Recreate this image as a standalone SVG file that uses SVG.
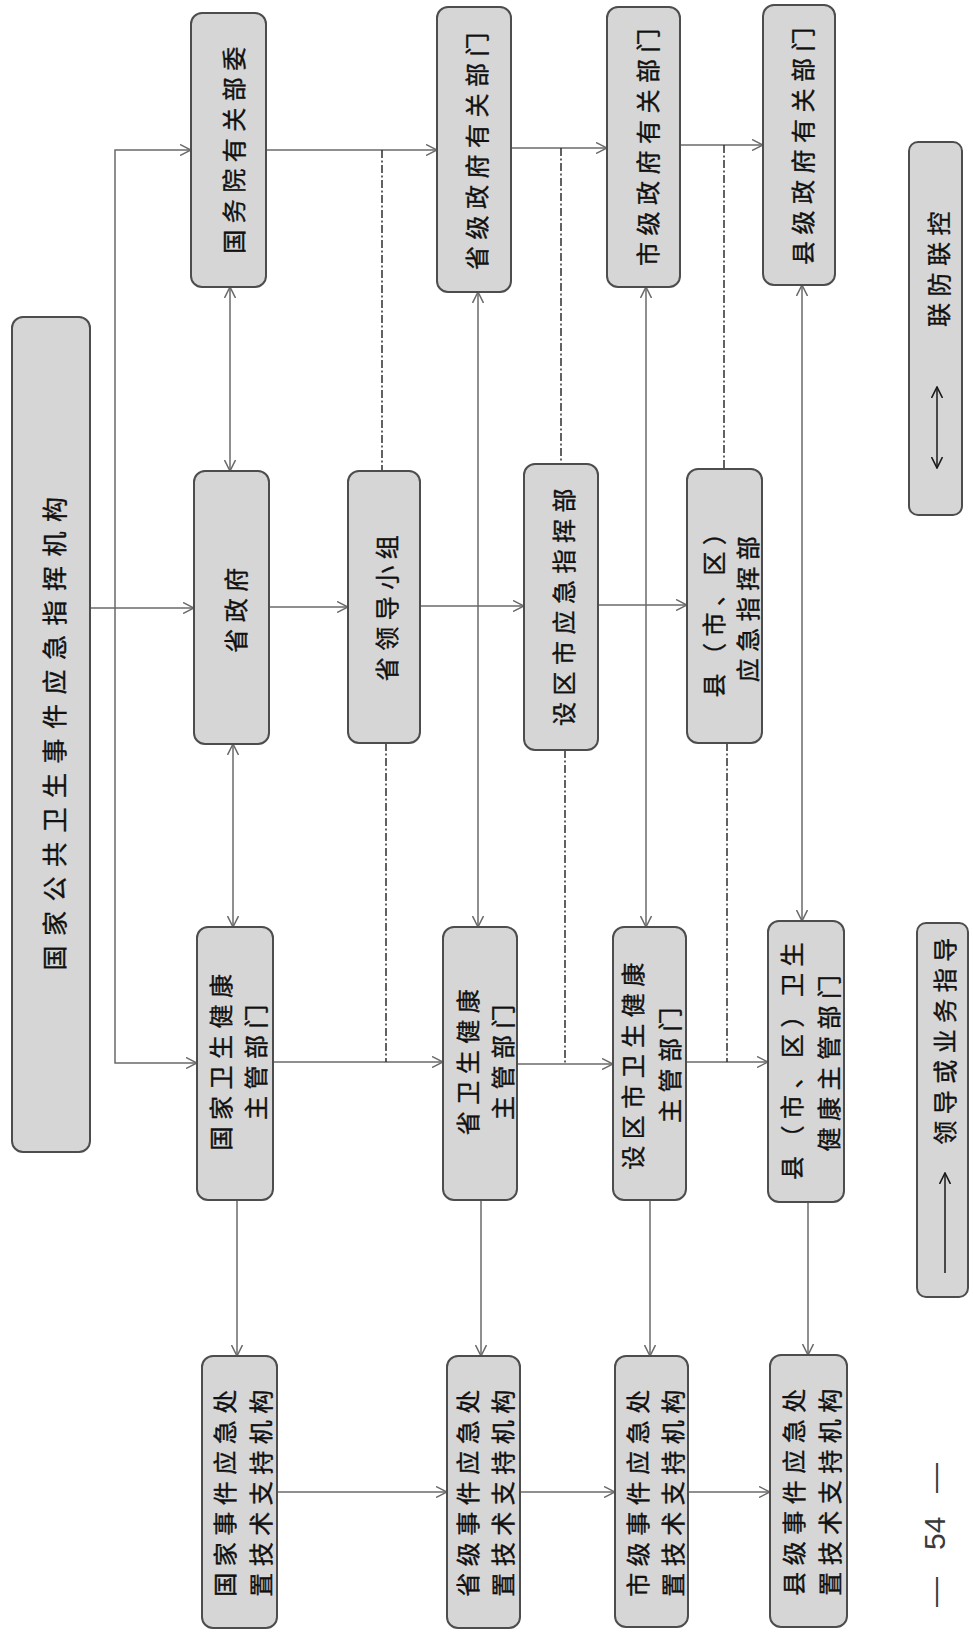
<svg xmlns="http://www.w3.org/2000/svg" width="973" height="1636" viewBox="0 0 973 1636">
  <style>
    .box { fill: #d6d6d6; stroke: #4d4d4d; stroke-width: 2; }
    .t { font-family: "Noto Sans CJK SC", "Noto Sans", sans-serif; font-size: 24px; letter-spacing: 6.5px; fill: #111111; stroke: #111111; stroke-width: 0.4; text-anchor: middle; dominant-baseline: central; }
    .title { font-size: 25px; letter-spacing: 9.5px; }
    .ln { fill: none; stroke: #6a6a6a; stroke-width: 1.5; }
    .arr { marker-end: url(#vee); }
    .both { marker-start: url(#vee); marker-end: url(#vee); }
    .dd { fill: none; stroke: #2e2e2e; stroke-width: 1.5; stroke-dasharray: 8 2.5 2 2.5; }
    .key { fill: none; stroke: #1a1a1a; stroke-width: 1.5; }
    .page { font-family: "Liberation Sans", Arial, sans-serif; font-size: 30px; fill: #3a3a3a; dominant-baseline: central; }
  </style>
  <defs>
    <marker id="vee" viewBox="0 0 12 12" refX="11" refY="6" markerWidth="12" markerHeight="12" markerUnits="userSpaceOnUse" orient="auto-start-reverse">
      <path d="M0,0.5 L11,6 L0,11.5" fill="none" stroke="#6a6a6a" stroke-width="1.5"/>
    </marker>
    <marker id="veeK" viewBox="0 0 12 12" refX="11" refY="6" markerWidth="12" markerHeight="12" markerUnits="userSpaceOnUse" orient="auto-start-reverse">
      <path d="M0,0.5 L11,6 L0,11.5" fill="none" stroke="#1a1a1a" stroke-width="1.6"/>
    </marker>
  </defs>

  <rect width="973" height="1636" fill="#ffffff"/>

  <!-- connectors: solid lines lead, dash-dot lines mark the joint control links -->
  <g id="connectors">
    <path class="ln arr" d="M90,608 H194"/>
    <path class="ln arr" d="M115,608 V150 H191"/>
    <path class="ln arr" d="M115,608 V1063 H197"/>

    <path class="ln arr" d="M266,150 H437"/>
    <path class="ln arr" d="M511,148 H607"/>
    <path class="ln arr" d="M680,145 H763"/>

    <path class="ln arr" d="M269,607 H348"/>
    <path class="ln arr" d="M420,606 H524"/>
    <path class="ln arr" d="M598,605 H687"/>

    <path class="ln arr" d="M273,1062 H443"/>
    <path class="ln arr" d="M517,1064 H613"/>
    <path class="ln arr" d="M686,1062 H768"/>

    <path class="ln arr" d="M277,1492 H447"/>
    <path class="ln arr" d="M520,1492 H615"/>
    <path class="ln arr" d="M688,1492 H770"/>

    <path class="ln arr" d="M237,1200 V1356"/>
    <path class="ln arr" d="M481,1200 V1356"/>
    <path class="ln arr" d="M650,1200 V1356"/>
    <path class="ln arr" d="M808,1202 V1355"/>

    <path class="ln both" d="M230,287 V471"/>
    <path class="ln both" d="M233,744 V927"/>
    <path class="ln both" d="M478,292 V927"/>
    <path class="ln both" d="M646,287 V927"/>
    <path class="ln both" d="M802,285 V921"/>

    <path class="dd" d="M382,150 V471"/>
    <path class="dd" d="M386,743 V1062"/>
    <path class="dd" d="M561,148 V464"/>
    <path class="dd" d="M565,750 V1064"/>
    <path class="dd" d="M724,145 V469"/>
    <path class="dd" d="M727,743 V1062"/>
  </g>

  <g id="n-title">
    <rect class="box" x="12" y="317" width="78" height="835" rx="11"/>
    <text class="t title" transform="translate(53,729) rotate(-90)">国家公共卫生事件应急指挥机构</text>
  </g>

  <g id="n-guowuyuan">
    <rect class="box" x="191" y="13" width="75" height="274" rx="11"/>
    <text class="t" transform="translate(232,147) rotate(-90)">国务院有关部委</text>
  </g>
  <g id="n-shengji-bumen">
    <rect class="box" x="437" y="7" width="74" height="285" rx="11"/>
    <text class="t" transform="translate(475,148) rotate(-90)">省级政府有关部门</text>
  </g>
  <g id="n-shiji-bumen">
    <rect class="box" x="607" y="7" width="73" height="280" rx="11"/>
    <text class="t" transform="translate(646,144) rotate(-90)">市级政府有关部门</text>
  </g>
  <g id="n-xianji-bumen">
    <rect class="box" x="763" y="5" width="72" height="280" rx="11"/>
    <text class="t" transform="translate(801,143) rotate(-90)">县级政府有关部门</text>
  </g>

  <g id="n-shengzhengfu">
    <rect class="box" x="194" y="471" width="75" height="273" rx="11"/>
    <text class="t" transform="translate(234,607) rotate(-90)">省政府</text>
  </g>
  <g id="n-lingdaoxiaozu">
    <rect class="box" x="348" y="471" width="72" height="272" rx="11"/>
    <text class="t" transform="translate(385,605) rotate(-90)">省领导小组</text>
  </g>
  <g id="n-shi-zhihuibu">
    <rect class="box" x="524" y="464" width="74" height="286" rx="11"/>
    <text class="t" transform="translate(562,604) rotate(-90)">设区市应急指挥部</text>
  </g>
  <g id="n-xian-zhihuibu">
    <rect class="box" x="687" y="469" width="75" height="274" rx="11"/>
    <text class="t" transform="translate(712,606) rotate(-90)">县（市、区）</text>
    <text class="t" transform="translate(746,606) rotate(-90)">应急指挥部</text>
  </g>

  <g id="n-guojia-weijian">
    <rect class="box" x="197" y="927" width="76" height="273" rx="11"/>
    <text class="t" transform="translate(219,1059) rotate(-90)">国家卫生健康</text>
    <text class="t" transform="translate(254,1059) rotate(-90)">主管部门</text>
  </g>
  <g id="n-sheng-weijian">
    <rect class="box" x="443" y="927" width="74" height="273" rx="11"/>
    <text class="t" transform="translate(466,1059) rotate(-90)">省卫生健康</text>
    <text class="t" transform="translate(501,1059) rotate(-90)">主管部门</text>
  </g>
  <g id="n-shi-weijian">
    <rect class="box" x="613" y="927" width="73" height="273" rx="11"/>
    <text class="t" transform="translate(631,1063) rotate(-90)">设区市卫生健康</text>
    <text class="t" transform="translate(668,1062) rotate(-90)">主管部门</text>
  </g>
  <g id="n-xian-weijian">
    <rect class="box" x="768" y="921" width="76" height="281" rx="11"/>
    <text class="t" transform="translate(790,1058) rotate(-90)">县（市、区）卫生</text>
    <text class="t" transform="translate(827,1060) rotate(-90)">健康主管部门</text>
  </g>

  <g id="n-guojia-jishu">
    <rect class="box" x="202" y="1356" width="75" height="272" rx="11"/>
    <text class="t" transform="translate(223,1490) rotate(-90)">国家事件应急处</text>
    <text class="t" transform="translate(259,1490) rotate(-90)">置技术支持机构</text>
  </g>
  <g id="n-sheng-jishu">
    <rect class="box" x="447" y="1356" width="73" height="272" rx="11"/>
    <text class="t" transform="translate(466,1490) rotate(-90)">省级事件应急处</text>
    <text class="t" transform="translate(501,1490) rotate(-90)">置技术支持机构</text>
  </g>
  <g id="n-shi-jishu">
    <rect class="box" x="615" y="1356" width="73" height="271" rx="11"/>
    <text class="t" transform="translate(636,1490) rotate(-90)">市级事件应急处</text>
    <text class="t" transform="translate(671,1490) rotate(-90)">置技术支持机构</text>
  </g>
  <g id="n-xian-jishu">
    <rect class="box" x="770" y="1355" width="77" height="272" rx="11"/>
    <text class="t" transform="translate(792,1489) rotate(-90)">县级事件应急处</text>
    <text class="t" transform="translate(828,1489) rotate(-90)">置技术支持机构</text>
  </g>

  <!-- key -->
  <g id="key-joint">
    <rect class="box" x="909" y="142" width="53" height="373" rx="9"/>
    <text class="t" transform="translate(937,266) rotate(-90)">联防联控</text>
    <path class="key" d="M937,468 V387" marker-start="url(#veeK)" marker-end="url(#veeK)"/>
  </g>
  <g id="key-guidance">
    <rect class="box" x="917" y="923" width="51" height="374" rx="9"/>
    <text class="t" transform="translate(943,1038) rotate(-90)">领导或业务指导</text>
    <path class="key" d="M945,1273 V1173" marker-end="url(#veeK)"/>
  </g>

  <!-- page number -->
  <text class="page" transform="translate(934,1533) rotate(-90)"><tspan x="-74">—</tspan><tspan x="-17">54</tspan><tspan x="40">—</tspan></text>
</svg>
